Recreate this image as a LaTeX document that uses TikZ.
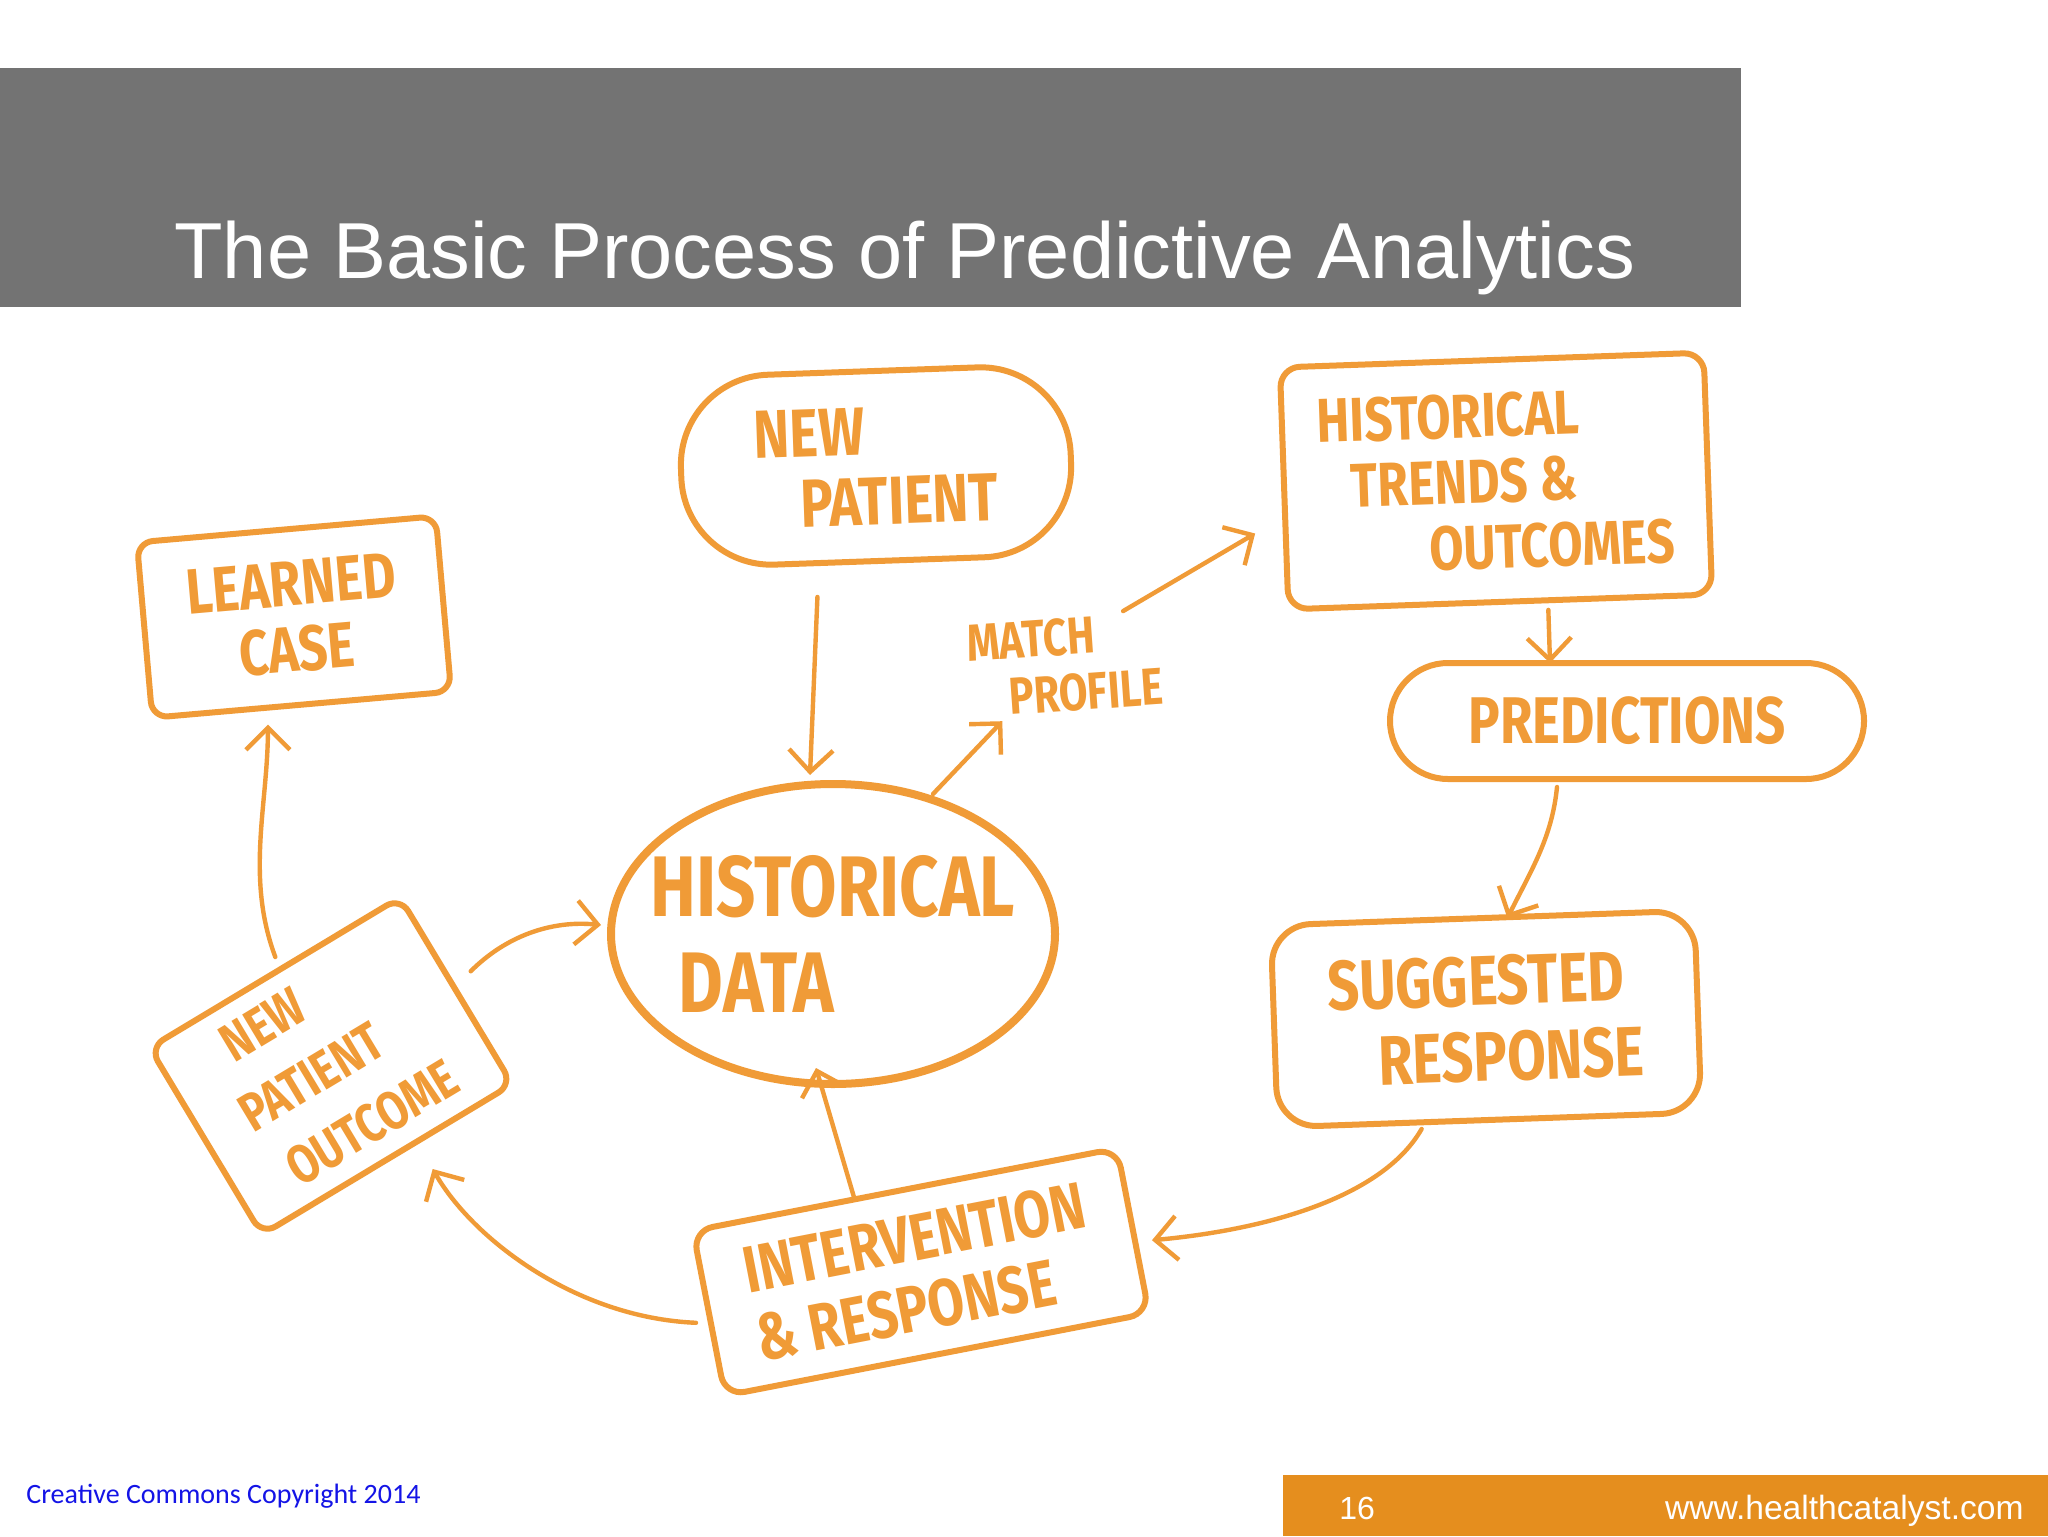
\documentclass[tikz,border=0pt]{standalone}
\usepackage{fontspec}
\setmainfont{Liberation Sans}
\newfontfamily\hand[FakeStretch=0.8]{Fira Sans}
\newfontfamily\calib{Carlito}
\usetikzlibrary{arrows.meta,calc,shapes.geometric}
\definecolor{ink}{RGB}{240,155,55}
\definecolor{bargray}{RGB}{115,115,115}
\definecolor{footorange}{RGB}{229,142,30}
\definecolor{ccblue}{RGB}{20,20,230}
\newcommand\hf[2]{\hand\bfseries\fontsize{#1}{#2}\selectfont}
\tikzset{
  box/.style={draw=ink, line width=3pt, text=ink, inner sep=0pt},
  lbl/.style={text=ink, inner sep=0pt},
  arr/.style={draw=ink, line width=2.2pt, line cap=round, line join=round,
    -{Straight Barb[length=11pt,width=22pt]}},
}
\begin{document}
\begin{tikzpicture}[x=0.5pt,y=-0.5pt]
\useasboundingbox (0,0) rectangle (2048,1536);
\fill[white] (0,0) rectangle (2048,1536);
% title bar
\fill[bargray] (0,68) rectangle (1741,307);
\node[anchor=base west, text=white, inner sep=0pt, font=\fontsize{39.7}{48}\selectfont] (title) at (174,278) {The Basic Process of Predictive Analytics};
% footer
\fill[footorange] (1283,1475) rectangle (2048,1536);
\node[anchor=base west, text=white, inner sep=0pt, font=\fontsize{16}{19}\selectfont] (pagenum) at (1339,1519) {16};
\node[anchor=base east, text=white, inner sep=0pt, font=\fontsize{16.8}{20}\selectfont] (url) at (2024,1519) {www.healthcatalyst.com};
\node[anchor=base west, text=ccblue, inner sep=0pt, font=\calib\fontsize{14}{17}\selectfont] (copy) at (26,1503) {Creative Commons Copyright 2014};

% diagram nodes
\node[box, rounded corners=45pt, minimum width=195pt, minimum height=95pt, rotate=2, align=left, font=\hf{34}{35}] (np) at (876,466) {NEW\\\hspace{22pt}PATIENT};
\node[box, rounded corners=8pt, minimum width=150pt, minimum height=88pt, rotate=5, align=center, font=\hf{32}{33}] (lc) at (294,617) {LEARNED\\CASE};
\node[box, rounded corners=10pt, minimum width=212pt, minimum height=121pt, rotate=2, align=left, font=\hf{31}{33}] (ht) at (1496,481) {HISTORICAL\\\hspace{16pt}TRENDS \&\\\hspace{54pt}OUTCOMES};
\node[box, rounded corners=29pt, minimum width=237pt, minimum height=58pt, align=center, font=\hf{33}{34}] (pr) at (1627,721) {PREDICTIONS};
\node[box, rounded corners=20pt, minimum width=212pt, minimum height=101pt, rotate=2, align=left, font=\hf{35}{38}] (sr) at (1486,1019) {SUGGESTED\\\hspace{24pt}RESPONSE};
\node[box, ellipse, line width=4pt, inner xsep=-30pt, inner ysep=-20pt, minimum width=222pt, minimum height=150pt, align=left, font=\hf{43}{48}] (hd) at (833,934) {HISTORICAL\\\hspace{14pt}DATA};
\node[box, rounded corners=8pt, minimum width=146pt, minimum height=109pt, rotate=31, align=left, font=\hf{27}{35}] (npo) at (331,1066) {\hspace{10pt}NEW\\PATIENT\\\hspace{6pt}OUTCOME};
\node[box, rounded corners=10pt, minimum width=216pt, minimum height=84pt, rotate=11, align=left, font=\hf{33}{35}] (ir) at (921,1272) {INTERVENTION\\\& RESPONSE};
\node[lbl, rotate=4, align=left, font=\hf{26}{28}] (mp) at (1065,665) {MATCH\\\hspace{19pt}PROFILE};

% connectors
\draw[arr] ($(np.south)+(-62,33)$) -- ($(hd.north)+(-23,-5)$);
\draw[arr] ($(hd.north)+(100,14)$) -- ($(mp.south)+(-66,9)$);
\draw[arr] ($(mp.north east)+(-35,0)$) -- ($(ht.west)+(-26,45)$);
\draw[arr] ($(ht.south)+(48,5)$) -- ($(pr.north)+(-77,3)$);
\draw[arr] ($(pr.south)+(-70,5)$) .. controls +(-5,50) and +(25,-50) .. ($(sr.north)+(25,3)$);
\draw[arr] ($(sr.south)+(-68,6)$) .. controls +(-40,70) and +(110,-10) .. ($(ir.east)+(16,10)$);
\draw[arr] ($(ir.north)+(-50,12)$) -- ($(hd.south)+(-17,-20)$);
\draw[arr] ($(ir.west)+(-10,9)$) .. controls +(-120,-5) and +(40,70) .. ($(npo.south)+(44,7)$);
\draw[arr] ($(npo.east)+(12,-18)$) .. controls +(35,-35) and +(-50,-5) .. ($(hd.west)+(-6,-9)$);
\draw[arr] ($(npo.north)+(2,-13)$) .. controls +(-30,-80) and +(0,80) .. ($(lc.south)+(-34,17)$);
\end{tikzpicture}
\end{document}
